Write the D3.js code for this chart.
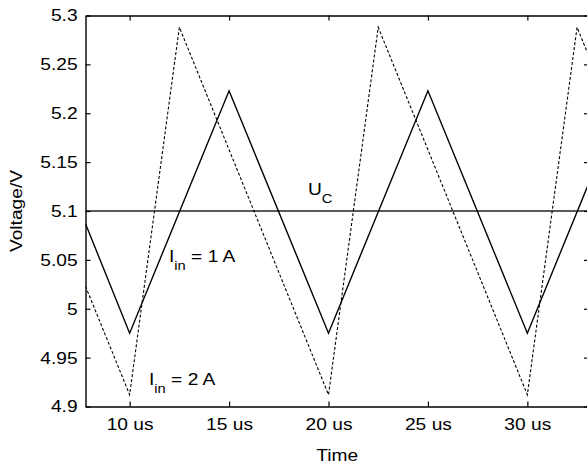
<!DOCTYPE html>
<html>
<head>
<meta charset="utf-8">
<script src="https://cdn.jsdelivr.net/npm/d3@7"></script>
<style>
  body { margin: 0; background: #fff; }
  svg { display: block; }
  text { font-family: "Liberation Sans", Arial, sans-serif; fill: #000; }
</style>
</head>
<body>
<svg id="chart" width="587" height="466"></svg>
<script>
// time (us) / voltage (V)
var time1 = [7.78, 10, 15, 20, 25, 30, 33.1];
var volt1 = [5.087, 4.975, 5.223, 4.975, 5.223, 4.975, 5.129];   // I_in = 1 A
var time2 = [7.78, 10, 12.5, 20, 22.5, 30, 32.5, 33.1];
var volt2 = [5.023, 4.912, 5.288, 4.912, 5.288, 4.912, 5.288, 5.258]; // I_in = 2 A
var uc = 5.1;

var xTicks = [10, 15, 20, 25, 30];
var xTickLabels = ["10 us", "15 us", "20 us", "25 us", "30 us"];
var yTicks = [4.9, 4.95, 5, 5.05, 5.1, 5.15, 5.2, 5.25, 5.3];
var yTickLabels = ["4.9", "4.95", "5", "5.05", "5.1", "5.15", "5.2", "5.25", "5.3"];

var svg = d3.select("#chart"),
    pLeft = 85.5, pRight = 589, pTop = 15.5, pBottom = 406.5,
    fs = 17, sx = 1.13;

var x = d3.scaleLinear().domain([7.78, 33.1]).range([pLeft, pRight]);
var y = d3.scaleLinear().domain([4.9, 5.3]).range([pBottom, pTop]);

svg.append("clipPath").attr("id", "clip")
  .append("rect")
    .attr("x", pLeft).attr("y", pTop)
    .attr("width", pRight - pLeft).attr("height", pBottom - pTop);

var plot = svg.append("g").attr("clip-path", "url(#clip)");

// U_C reference line
plot.append("line")
    .attr("x1", pLeft).attr("x2", pRight)
    .attr("y1", y(uc)).attr("y2", y(uc))
    .attr("stroke", "#222")
    .attr("stroke-width", 1.3);

var line = d3.line()
    .x(function(d) { return x(d[0]); })
    .y(function(d) { return y(d[1]); });

plot.append("path")
    .datum(d3.zip(time1, volt1))
    .attr("d", line)
    .attr("fill", "none")
    .attr("stroke", "#000")
    .attr("stroke-width", 1.4);

plot.append("path")
    .datum(d3.zip(time2, volt2))
    .attr("d", line)
    .attr("fill", "none")
    .attr("stroke", "#000")
    .attr("stroke-width", 1.1)
    .attr("stroke-dasharray", "3,2");

// axes, ticks pointing inward on all four sides
function styleAxis(g) {
  g.select(".domain").attr("stroke", "#000").attr("stroke-width", 1.4);
  g.selectAll(".tick line").attr("stroke", "#000").attr("stroke-width", 1.2);
  g.selectAll("text")
    .style("font-family", "'Liberation Sans', Arial, sans-serif")
    .style("font-size", fs + "px")
    .attr("fill", "#000");
}

var xAxis = svg.append("g")
    .attr("transform", "translate(0," + pBottom + ")")
    .call(d3.axisBottom(x).tickValues(xTicks)
      .tickFormat(function(d, i) { return xTickLabels[i]; })
      .tickSizeInner(-5).tickSizeOuter(0).tickPadding(11))
    .call(styleAxis);
xAxis.selectAll("text").attr("transform", "scale(" + sx + ",1)");

var yAxis = svg.append("g")
    .attr("transform", "translate(" + pLeft + ",0)")
    .call(d3.axisLeft(y).tickValues(yTicks)
      .tickFormat(function(d, i) { return yTickLabels[i]; })
      .tickSizeInner(-5).tickSizeOuter(0).tickPadding(7))
    .call(styleAxis);
yAxis.selectAll("text").attr("transform", "scale(" + sx + ",1)");

svg.append("g")
    .attr("transform", "translate(0," + pTop + ")")
    .call(d3.axisTop(x).tickValues(xTicks).tickFormat("")
      .tickSizeInner(-5).tickSizeOuter(0))
    .call(styleAxis);

svg.append("g")
    .attr("transform", "translate(" + pRight + ",0)")
    .call(d3.axisRight(y).tickValues(yTicks).tickFormat("")
      .tickSizeInner(-5).tickSizeOuter(0))
    .call(styleAxis);

// axis titles
svg.append("text")
    .attr("transform", "translate(" + ((pLeft + 587) / 2 + 1) + ",461) scale(" + sx + ",1)")
    .attr("text-anchor", "middle")
    .style("font-size", fs + "px")
    .text("Time");

svg.append("text")
    .attr("transform", "translate(22," + ((pTop + pBottom) / 2) + ") rotate(-90) scale(" + sx + ",1)")
    .attr("text-anchor", "middle")
    .style("font-size", fs + "px")
    .text("Voltage/V");

// annotations with subscripts
function subLabel(px, py, main, sub, rest) {
  var t = svg.append("text")
      .attr("transform", "translate(" + px + "," + py + ") scale(" + sx + ",1)")
      .style("font-size", fs + "px");
  t.append("tspan").text(main);
  t.append("tspan").attr("dy", 8).style("font-size", "13px").text(sub);
  if (rest) t.append("tspan").attr("dy", -8).text(rest);
}

subLabel(308, 195, "U", "C", null);
subLabel(169, 262, "I", "in", " = 1 A");
subLabel(149, 385, "I", "in", " = 2 A");
</script>
</body>
</html>
